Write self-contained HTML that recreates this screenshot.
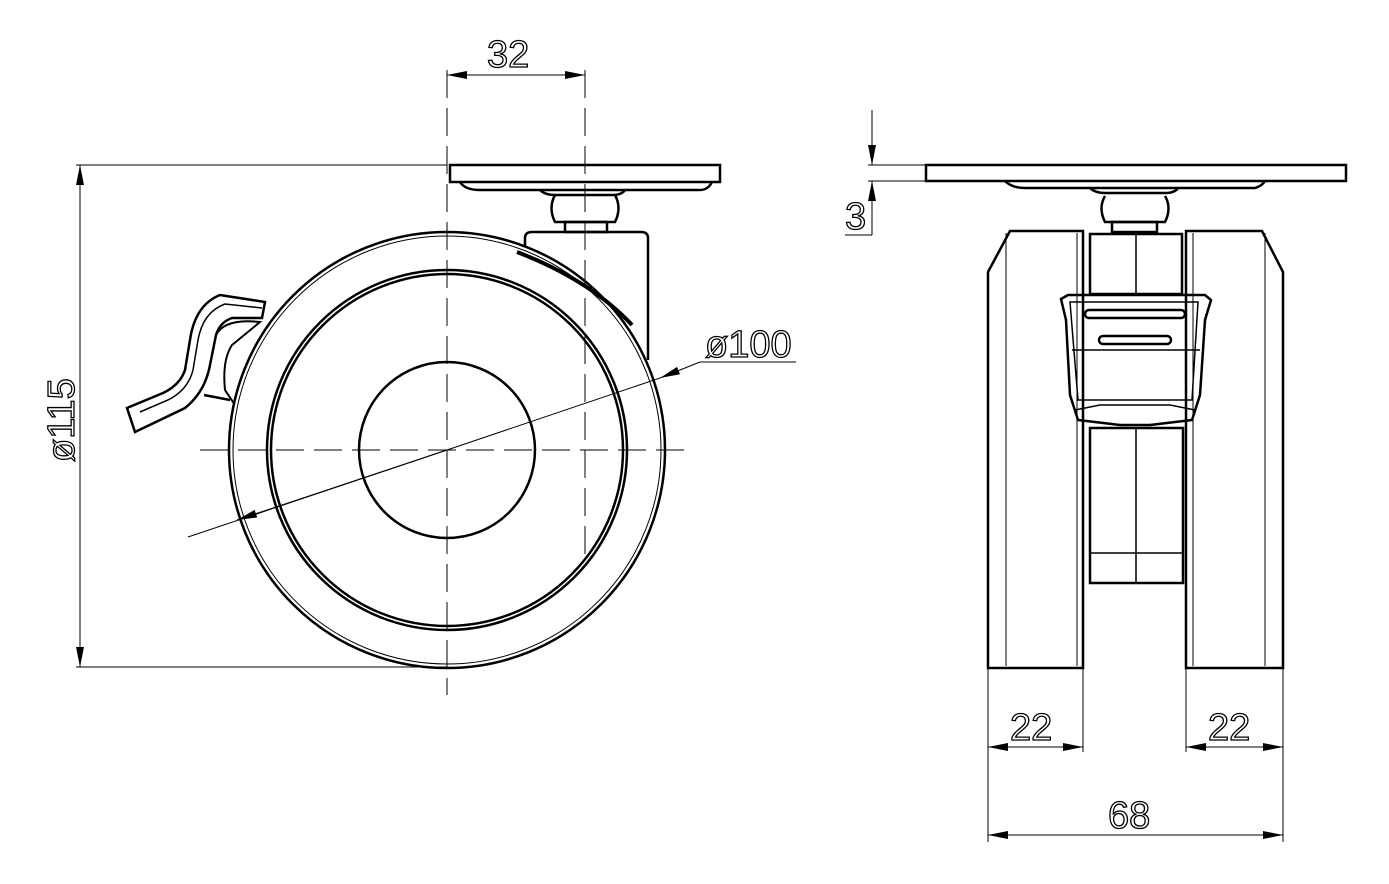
<!DOCTYPE html>
<html><head><meta charset="utf-8"><style>
html,body{margin:0;padding:0;background:#fff;}
svg{display:block}
text{font-family:"Liberation Sans",sans-serif;font-size:38px;fill:none;stroke:#000;stroke-width:1.3}
</style></head><body>
<svg width="1389" height="884" viewBox="0 0 1389 884" xmlns="http://www.w3.org/2000/svg">
<defs>
<marker id="a" viewBox="0 0 20 8" refX="20" refY="4" markerWidth="20" markerHeight="8" markerUnits="userSpaceOnUse" orient="auto-start-reverse"><path d="M0,0 L20,4 L0,8z" fill="#000"/></marker>
</defs>
<g fill="none" stroke="#000">
<!-- LEFT VIEW parts behind wheel -->
<g stroke-width="2.5">
<rect x="450" y="165" width="270" height="17"/>
<path d="M460,182 Q465,190 480,190 L700,190 Q708,190 712,182"/>
<path d="M540,190 Q545,195 555,195 L612,195 Q622,195 625,190"/>
<path d="M555,195 Q548,208 555,222 L615,222 Q622,208 615,195"/>
<rect x="565" y="222" width="42" height="10"/>
<path d="M525,300 L525,238 Q525,232 532,232 L641,232 Q648,232 648,238 L648,360"/>
<!-- brake lever -->
<path d="M127,408 L163,393 Q180,385 185,370 L190,340 Q195,305 220,295 L265,302 L262,318 L232,318 Q220,322 216,335 L210,365 Q205,392 185,408 L135,432 Z" fill="#fff"/>
<path d="M140,412 L168,400 Q188,390 193,370 L198,340 Q203,312 225,304 L262,308" stroke-width="1.5"/>
<path d="M216,335 Q225,318 260,322 L232,345 Q222,360 225,390 L235,405" stroke-width="2"/>
<path d="M204,395 L230,400"/>
</g>
<circle cx="447" cy="450" r="218" stroke-width="2.5" fill="#fff"/>
<circle cx="447" cy="450" r="214" stroke-width="1"/>
<g stroke-width="1">
<line x1="447" y1="70" x2="447" y2="695" stroke-dasharray="28,10"/>
<line x1="585" y1="70" x2="585" y2="560" stroke-dasharray="28,10"/>
<line x1="200" y1="450" x2="692" y2="450" stroke-dasharray="28,10"/>
<line x1="76" y1="165" x2="447" y2="165"/>
<line x1="76" y1="667" x2="447" y2="667"/>
<line x1="447" y1="75" x2="585" y2="75" marker-start="url(#a)" marker-end="url(#a)"/>
<line x1="80" y1="165" x2="80" y2="667" marker-start="url(#a)" marker-end="url(#a)"/>
<line x1="447" y1="450" x2="188" y2="537"/>
<line x1="447" y1="450" x2="237" y2="520" marker-end="url(#a)"/>
<line x1="447" y1="450" x2="660" y2="378"/>
<line x1="700" y1="362" x2="660" y2="378" marker-end="url(#a)"/>
<line x1="700" y1="362" x2="796" y2="362"/>
</g>
<g stroke-width="2.5">
<circle cx="447" cy="450" r="180"/>
<circle cx="447" cy="450" r="176"/>
<circle cx="447" cy="450" r="88"/>
<path d="M517,252 Q590,280 632,325" stroke-width="4"/>
</g>

<!-- RIGHT VIEW -->
<g stroke-width="1">
<line x1="868" y1="165" x2="926" y2="165"/>
<line x1="868" y1="181" x2="926" y2="181"/>
<line x1="872" y1="110" x2="872" y2="165" marker-end="url(#a)"/>
<line x1="872" y1="235" x2="872" y2="181" marker-end="url(#a)"/>
<line x1="845" y1="235" x2="872" y2="235"/>
<line x1="988" y1="668" x2="988" y2="842"/>
<line x1="1083" y1="668" x2="1083" y2="752"/>
<line x1="1186" y1="668" x2="1186" y2="752"/>
<line x1="1283" y1="668" x2="1283" y2="842"/>
<line x1="988" y1="747" x2="1083" y2="747" marker-start="url(#a)" marker-end="url(#a)"/>
<line x1="1186" y1="747" x2="1283" y2="747" marker-start="url(#a)" marker-end="url(#a)"/>
<line x1="988" y1="835" x2="1283" y2="835" marker-start="url(#a)" marker-end="url(#a)"/>
<line x1="1006" y1="233" x2="1006" y2="666"/>
<line x1="1265" y1="233" x2="1265" y2="666"/>
<line x1="1077" y1="233" x2="1077" y2="666"/>
<line x1="1193" y1="233" x2="1193" y2="666"/>
</g>
<g stroke-width="2.5">
<rect x="926" y="165" width="420" height="16"/>
<path d="M1005,181 Q1012,188 1025,188 L1255,188 Q1262,186 1265,181"/>
<path d="M1090,188 Q1095,193 1105,193 L1165,193 Q1175,193 1178,188"/>
<path d="M1105,196 Q1098,208 1105,222 L1165,222 Q1172,208 1165,196"/>
<rect x="1112" y="222" width="45" height="10"/>
<path d="M988,668 L988,272 L1010,231 L1083,231 L1083,668 Z"/>
<path d="M1283,668 L1283,272 L1262,231 L1186,231 L1186,668 Z"/>
<rect x="1090" y="234" width="92" height="60"/>
<line x1="1136" y1="234" x2="1136" y2="294" stroke-width="1.5"/>
<path d="M1061,299 L1068,295 L1205,295 L1211,300 L1205,320 L1200,395 L1192,420 L1150,425 L1120,425 L1078,420 L1070,395 L1066,320 Z"/>
<path d="M1070,302 L1198,302 L1192,400 L1078,400 Z" stroke-width="1.5"/>
<line x1="1072" y1="350" x2="1200" y2="350" stroke-width="1.5"/>
<rect x="1085" y="310" width="100" height="8" rx="4"/>
<rect x="1099" y="336" width="72" height="8" rx="4"/>
<path d="M1075,410 L1100,405 L1170,405 L1195,410" stroke-width="1.5"/>
<rect x="1090" y="428" width="93" height="155"/>
<line x1="1136" y1="428" x2="1136" y2="583" stroke-width="1.5"/>
<line x1="1090" y1="553" x2="1183" y2="553" stroke-width="1.5"/>
</g>
</g>
<text x="487" y="67">32</text>
<text x="705" y="357">ø100</text>
<text transform="translate(74,462) rotate(-90)">ø115</text>
<text x="845" y="229">3</text>
<text x="1010" y="740">22</text>
<text x="1208" y="740">22</text>
<text x="1108" y="828">68</text>
</svg>
</body></html>
